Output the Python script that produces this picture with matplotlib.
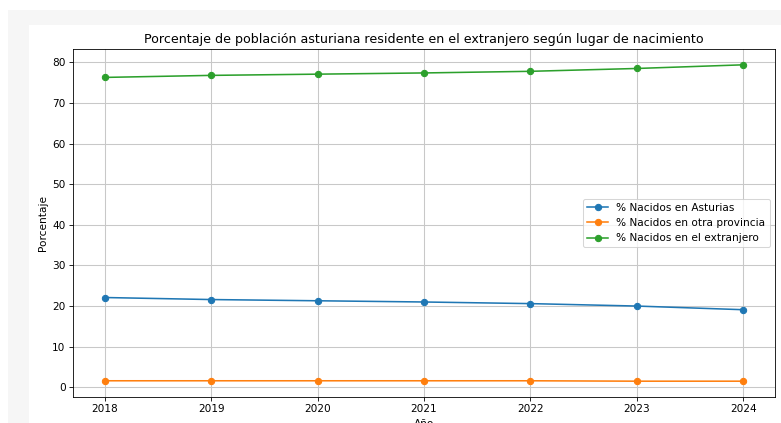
import matplotlib
matplotlib.use("Agg")
import matplotlib.pyplot as plt
from matplotlib.patches import Rectangle

years = [2018, 2019, 2020, 2021, 2022, 2023, 2024]
asturias = [22.1, 21.6, 21.3, 21.0, 20.6, 20.0, 19.1]
otra_provincia = [1.6, 1.6, 1.6, 1.6, 1.6, 1.5, 1.5]
extranjero = [76.3, 76.8, 77.1, 77.4, 77.8, 78.5, 79.4]

labels = ["% Nacidos en Asturias", "% Nacidos en otra provincia", "% Nacidos en el extranjero"]

W, H = 781, 423
DPI = 75.5
fig = plt.figure(figsize=(W / DPI, H / DPI), dpi=DPI, facecolor="white")

# screenshot frame
fig.patches.append(Rectangle((8 / W, 0), 1, 1 - 10 / H, transform=fig.transFigure,
                             facecolor="#f6f6f6", edgecolor="none", zorder=-10))
fig.patches.append(Rectangle((29 / W, 0), 1, 1 - 25 / H, transform=fig.transFigure,
                             facecolor="white", edgecolor="none", zorder=-9))

ax = fig.add_axes([73 / W, (H - 397) / H, 702 / W, 348 / H])
ax.plot(years, asturias, marker="o", label=labels[0])
ax.plot(years, otra_provincia, marker="o", label=labels[1])
ax.plot(years, extranjero, marker="o", label=labels[2])
ax.set_title("Porcentaje de población asturiana residente en el extranjero según lugar de nacimiento")
ax.set_xlabel("Año")
ax.set_ylabel("Porcentaje")
ax.set_xticks(years)
ax.grid(True, color="#c8c8c8", linewidth=1.0)
ax.legend(loc="center right")

fig.savefig("out.png", dpi=DPI)
